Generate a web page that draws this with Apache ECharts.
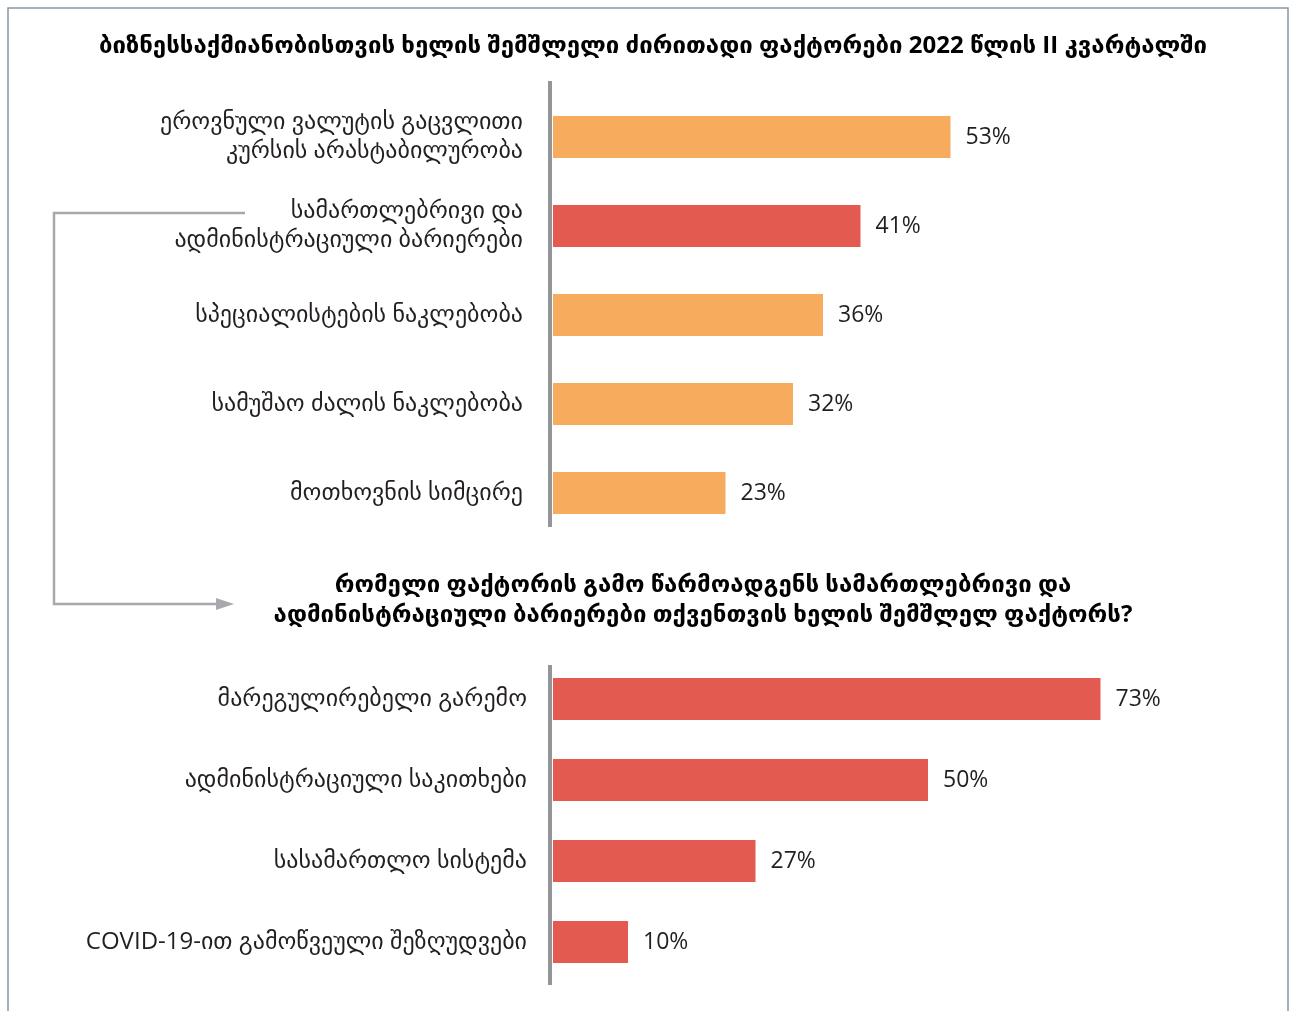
<!DOCTYPE html>
<html><head><meta charset="utf-8">
<script src="https://cdn.jsdelivr.net/npm/echarts@6/dist/echarts.min.js"></script>
<style>html,body{margin:0;padding:0;background:#fff}#c{width:1290px;height:1011px}</style>
</head><body><div id="c"></div>
<script>
const mainTitle = 'ბიზნესსაქმიანობისთვის ხელის შემშლელი ძირითადი ფაქტორები 2022 წლის II კვარტალში';
const topCategories = ['ეროვნული ვალუტის გაცვლითი\nკურსის არასტაბილურობა', 'სამართლებრივი და\nადმინისტრაციული ბარიერები', 'სპეციალისტების ნაკლებობა', 'სამუშაო ძალის ნაკლებობა', 'მოთხოვნის სიმცირე'];
const topValues = [53, 41, 36, 32, 23];
const highlightedCategory = topCategories[1];
const subTitle = 'რომელი ფაქტორის გამო წარმოადგენს სამართლებრივი და\nადმინისტრაციული ბარიერები თქვენთვის ხელის შემშლელ ფაქტორს?';
const bottomCategories = ['მარეგულირებელი გარემო', 'ადმინისტრაციული საკითხები', 'სასამართლო სისტემა', 'COVID-19-ით გამოწვეული შეზღუდვები'];
const bottomValues = [73, 50, 27, 10];

const ORANGE = '#F7AC5D', RED = '#E35B50', GREY = '#939598', TEXT = '#231f20';
const FONT = '"Open Sans", "DejaVu Sans", sans-serif';

const chart = echarts.init(document.getElementById('c'), null, {renderer: 'canvas'});
const yAxisBase = (gi, data, margin) => ({
  type: 'category', gridIndex: gi, inverse: true, data: data,
  axisLine: {show: false}, axisTick: {show: false}, splitLine: {show: false},
  axisLabel: {margin: margin, fontSize: 24, color: TEXT, lineHeight: 29, fontFamily: FONT}
});
const barLabel = {show: true, position: 'right', distance: 15, formatter: '{c}%', fontSize: 23, color: TEXT, fontFamily: FONT};

chart.setOption({
  animation: false,
  title: [
    {text: mainTitle, left: 648, top: 29, textAlign: 'center',
     textStyle: {fontSize: 24, fontWeight: 'bold', color: '#000', fontFamily: FONT}},
    {text: subTitle, left: 698, top: 565, textAlign: 'center',
     textStyle: {fontSize: 24, fontWeight: 'bold', color: '#000', lineHeight: 30, fontFamily: FONT}}
  ],
  grid: [
    {left: 553, width: 600, top: 92.5, height: 445},
    {left: 553, width: 600, top: 658.5, height: 324}
  ],
  xAxis: [
    {type: 'value', gridIndex: 0, min: 0, max: 80, show: false},
    {type: 'value', gridIndex: 1, min: 0, max: 80, show: false}
  ],
  yAxis: [yAxisBase(0, topCategories, 30), yAxisBase(1, bottomCategories, 26)],
  series: [
    {type: 'bar', xAxisIndex: 0, yAxisIndex: 0, data: topValues, barWidth: 42,
     itemStyle: {color: p => p.name === highlightedCategory ? RED : ORANGE}, label: barLabel},
    {type: 'bar', xAxisIndex: 1, yAxisIndex: 1, data: bottomValues, barWidth: 42,
     itemStyle: {color: RED}, label: barLabel}
  ],
  graphic: [
    {type: 'rect', shape: {x: 8, y: 8, width: 1280, height: 1100}, style: {fill: 'none', stroke: '#8c96a1', lineWidth: 1.5}, silent: true},
    {type: 'line', shape: {x1: 550, y1: 81, x2: 550, y2: 527}, style: {stroke: GREY, lineWidth: 4}, z: 10},
    {type: 'line', shape: {x1: 550, y1: 665, x2: 550, y2: 985}, style: {stroke: GREY, lineWidth: 4}, z: 10},
    {type: 'polyline', shape: {points: [[245, 213], [54, 213], [54, 604], [220, 604]]}, style: {stroke: '#a7a9ac', lineWidth: 2.5, fill: null}},
    {type: 'polygon', shape: {points: [[216, 598], [234, 604], [216, 610]]}, style: {fill: '#a7a9ac'}}
  ]
});
</script></body></html>
